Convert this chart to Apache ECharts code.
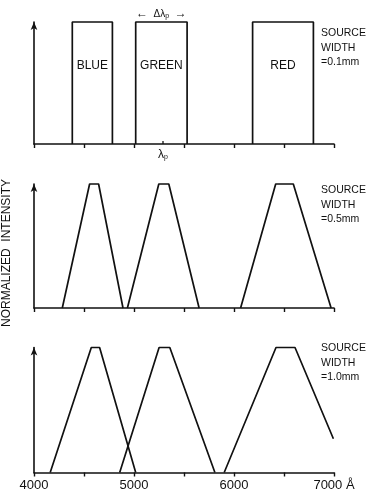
<!DOCTYPE html>
<html><head><meta charset="utf-8">
<script src="https://cdn.jsdelivr.net/npm/echarts@6/dist/echarts.min.js"></script>
<style>html,body{margin:0;padding:0;background:#fff}#c{width:366px;height:494px}</style>
</head><body><div id="c"></div>
<script>
// ---- data (wavelength in Å, normalized intensity) ----
const xMin = 4000, xMax = 7000, xStep = 500;
const xTickLabels = {4000:'4000', 5000:'5000', 6000:'6000', 7000:'7000 Å'};
const bandNames = ['BLUE','GREEN','RED'];
const sourceWidths = ['=0.1mm','=0.5mm','=1.0mm'];
const yTitle = 'NORMALIZED  INTENSITY';

// source width 0.1 mm : rectangular passbands
const blue01  = [[4383,0],[4383,1],[4784,1],[4784,0]];
const green01 = [[5017,0],[5017,1],[5531,1],[5531,0]];
const red01   = [[6186,0],[6186,1],[6794,1],[6794,0]];
// source width 0.5 mm : trapezoids
const blue05  = [[4283,0],[4556,1],[4646,1],[4890,0]];
const green05 = [[4934,0],[5248,1],[5348,1],[5651,0]];
const red05   = [[6066,0],[6417,1],[6593,1],[6971,0]];
// source width 1.0 mm : trapezoids
const blue10  = [[4162,0],[4573,1],[4656,1],[5017,0]];
const green10 = [[4857,0],[5251,1],[5358,1],[5809,0]];
const red10   = [[5902,0],[6420,1],[6610,1],[6994,0.27]];

const peakWavelength = 5290;     // λp
const bandLabelLevel = 0.64;     // height of BLUE/GREEN/RED labels
const deltaLabelLevel = 1.066;   // height of Δλp annotation

const panels = [[blue01,green01,red01],[blue05,green05,red05],[blue10,green10,red10]];

// ---- layout ----
const INK = '#111';
const FONT = '"Liberation Sans", Arial, sans-serif';
const grids = [
  {left:34, right:32, top:22,    height:122},
  {left:34, right:32, top:184,   height:124},
  {left:34, right:32, top:347.5, height:125}
];

const xAxes = grids.map((g,i)=>({
  type:'value', gridIndex:i, min:xMin, max:xMax, interval:xStep,
  axisLine:{show:true, onZero:false, lineStyle:{color:INK, width:1.6}},
  axisTick:{show:true, inside:false, length:4, lineStyle:{color:INK, width:1.4}},
  splitLine:{show:false},
  axisLabel:{show:i===2, margin:6, color:INK, fontFamily:FONT, fontSize:13,
    formatter:v=> xTickLabels[v] !== undefined ? xTickLabels[v] : ''}
}));
const yAxes = grids.map((g,i)=>({
  type:'value', gridIndex:i, min:0, max:1,
  axisLine:{show:true, symbol:['none','arrow'], symbolSize:[5,8], lineStyle:{color:INK, width:1.6}},
  axisTick:{show:false}, axisLabel:{show:false}, splitLine:{show:false}
}));

const series = [];
panels.forEach((p,i)=>p.forEach((d,j)=>series.push({
  type:'line', xAxisIndex:i, yAxisIndex:i, data:d, symbol:'none', silent:true,
  clip:false, lineStyle:{color:INK, width:1.7}
})));

const titles = sourceWidths.map((w,i)=>({
  text:'SOURCE\nWIDTH\n'+w, left:321, top:[26,183,341][i], padding:0,
  textStyle:{fontFamily:FONT, fontSize:10.5, fontWeight:'normal', color:INK, lineHeight:14.5}
}));

const chart = echarts.init(document.getElementById('c'), null, {renderer:'canvas'});
chart.setOption({
  backgroundColor:'#fff', animation:false,
  title:titles, grid:grids, xAxis:xAxes, yAxis:yAxes, series:series
});

// annotations positioned from data values
const px = (gi, pt) => chart.convertToPixel({gridIndex:gi}, pt);
const graphics = [];
[blue01, green01, red01].forEach((d,j)=>{
  const c = px(0, [(d[0][0]+d[3][0])/2, bandLabelLevel]);
  graphics.push({type:'text', x:c[0], y:c[1], style:{text:bandNames[j], fill:INK,
    font:'12px '+FONT, textAlign:'center', textVerticalAlign:'middle'}});
});
const gL = px(0,[green01[0][0], deltaLabelLevel]), gR = px(0,[green01[3][0], deltaLabelLevel]);
graphics.push({type:'text', x:(gL[0]+gR[0])/2, y:gL[1], style:{
  rich:{a:{fontSize:10, fontFamily:FONT, fill:INK},
        r:{fontSize:12, fontWeight:'bold', fontFamily:FONT, fill:INK},
        s:{fontSize:7, fontFamily:FONT, fill:INK, padding:[4,0,0,0]}},
  text:'{r|←}{a|  Δλ}{s|p}{a|  }{r|→}', textAlign:'center', textVerticalAlign:'middle'}});
const lp = px(0,[peakWavelength,0]);
graphics.push({type:'line', shape:{x1:lp[0], y1:lp[1], x2:lp[0], y2:lp[1]-3}, style:{stroke:INK, lineWidth:1.3}});
graphics.push({type:'text', x:lp[0], y:lp[1]+11, style:{
  rich:{a:{fontSize:12, fontFamily:FONT, fill:INK}, s:{fontSize:7, fontFamily:FONT, fill:INK, padding:[5,0,0,0]}},
  text:'{a|λ}{s|p}', textAlign:'center', textVerticalAlign:'middle'}});
graphics.push({type:'text', x:7, y:253, rotation:Math.PI/2, style:{text:yTitle, fill:INK,
  font:'12px '+FONT, textAlign:'center', textVerticalAlign:'middle'}});
chart.setOption({graphic:graphics});
</script></body></html>
